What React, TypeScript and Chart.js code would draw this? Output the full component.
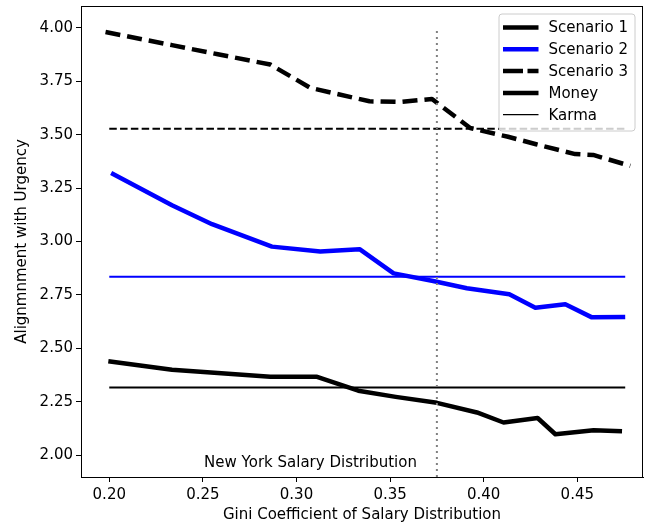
import React, { useEffect, useRef } from "react";
import { Chart, registerables } from "chart.js";

Chart.register(...registerables);

const FONT = '"DejaVu Sans", "Liberation Sans", sans-serif';

// ---- data ----
const scenario1Gini = [0.1995, 0.2335, 0.258, 0.286, 0.311, 0.333, 0.353, 0.375, 0.3964, 0.4106, 0.4288, 0.4383, 0.4587, 0.4739];
const scenario1Values = [2.44, 2.40, 2.385, 2.367, 2.367, 2.302, 2.273, 2.245, 2.20, 2.153, 2.174, 2.098, 2.117, 2.112];

const scenario2Gini = [0.201, 0.2335, 0.2549, 0.2869, 0.3127, 0.3337, 0.3519, 0.373, 0.391, 0.4137, 0.4276, 0.4436, 0.4578, 0.4756];
const scenario2Values = [3.32, 3.17, 3.081, 2.976, 2.953, 2.964, 2.851, 2.815, 2.781, 2.753, 2.690, 2.706, 2.645, 2.647];

const scenario3Gini = [0.198, 0.2335, 0.258, 0.286, 0.3074, 0.339, 0.3555, 0.3724, 0.3928, 0.413, 0.428, 0.4489, 0.4585, 0.4783];
const scenario3Values = [3.98, 3.919, 3.876, 3.828, 3.719, 3.656, 3.653, 3.667, 3.531, 3.49, 3.455, 3.409, 3.405, 3.354];

const baselineGini = [0.2, 0.4756];
const scenario1Baseline = 2.317;
const scenario2Baseline = 2.835;
const scenario3Baseline = 3.528;

const newYorkGini = 0.375;
const newYorkLabel = "New York Salary Distribution";
const newYorkLabelPos = [0.3075, 1.945];

const xTicks = [0.2, 0.25, 0.3, 0.35, 0.4, 0.45];
const yTicks = [2.0, 2.25, 2.5, 2.75, 3.0, 3.25, 3.5, 3.75, 4.0];
const xRange = [0.1849, 0.4851];
const yRange = [1.898, 4.102];

const legendLabels = ["Scenario 1", "Scenario 2", "Scenario 3", "Money", "Karma"];

const xTitle = "Gini Coefficient of Salary Distribution";
const yTitle = "Alignmnment with Urgency";

const toPoints = (xs: number[], ys: number[]) => xs.map((x, i) => ({ x, y: ys[i] }));
const flat = (xs: number[], y: number) => xs.map((x) => ({ x, y }));

const BLUE = "#0000ff";
const THICK = 4.5;

const overlayPlugin = {
  id: "overlay",
  afterDatasetsDraw(chart: any) {
    const { ctx, chartArea, scales } = chart;
    const xs = scales.x;
    const ys = scales.y;
    ctx.save();
    // vertical dotted marker
    const vx = xs.getPixelForValue(newYorkGini);
    const h = chartArea.bottom - chartArea.top;
    ctx.strokeStyle = "#808080";
    ctx.lineWidth = 2;
    ctx.setLineDash([2, 4]);
    ctx.beginPath();
    ctx.moveTo(vx, chartArea.bottom);
    ctx.lineTo(vx, chartArea.top + 0.05 * h);
    ctx.stroke();
    ctx.setLineDash([]);
    // annotation text
    ctx.fillStyle = "#000";
    ctx.font = `15px ${FONT}`;
    ctx.textAlign = "center";
    ctx.textBaseline = "alphabetic";
    ctx.fillText(newYorkLabel, xs.getPixelForValue(newYorkLabelPos[0]), ys.getPixelForValue(newYorkLabelPos[1]));
    ctx.restore();
  },
  afterDraw(chart: any) {
    const { ctx, chartArea } = chart;
    ctx.save();
    // frame
    ctx.strokeStyle = "#000";
    ctx.lineWidth = 1;
    ctx.strokeRect(chartArea.left + 0.5, chartArea.top + 0.5, chartArea.right - chartArea.left - 1, chartArea.bottom - chartArea.top);

    // legend
    const bx = chartArea.right - 8;
    const left = bx - 136;
    const top = chartArea.top + 8;
    const w = 136;
    const hgt = 117;
    const r = 3;
    ctx.beginPath();
    ctx.moveTo(left + r, top);
    ctx.lineTo(left + w - r, top);
    ctx.arcTo(left + w, top, left + w, top + r, r);
    ctx.lineTo(left + w, top + hgt - r);
    ctx.arcTo(left + w, top + hgt, left + w - r, top + hgt, r);
    ctx.lineTo(left + r, top + hgt);
    ctx.arcTo(left, top + hgt, left, top + hgt - r, r);
    ctx.lineTo(left, top + r);
    ctx.arcTo(left, top, left + r, top, r);
    ctx.closePath();
    ctx.fillStyle = "rgba(255,255,255,0.8)";
    ctx.fill();
    ctx.strokeStyle = "#cccccc";
    ctx.lineWidth = 1;
    ctx.stroke();

    const styles = [
      { color: "#000", width: THICK, dash: [] as number[] },
      { color: BLUE, width: THICK, dash: [] as number[] },
      { color: "#000", width: THICK, dash: [20, 4.5] },
      { color: "#000", width: THICK, dash: [] as number[] },
      { color: "#000", width: 1.3, dash: [] as number[] },
    ];
    ctx.font = `15px ${FONT}`;
    ctx.textAlign = "left";
    ctx.textBaseline = "middle";
    legendLabels.forEach((label, i) => {
      const y = top + 13.5 + i * 21.8;
      const s = styles[i];
      ctx.strokeStyle = s.color;
      ctx.lineWidth = s.width;
      ctx.setLineDash(s.dash);
      ctx.lineCap = "butt";
      ctx.beginPath();
      ctx.moveTo(left + 4, y);
      ctx.lineTo(left + 39.5, y);
      ctx.stroke();
      ctx.setLineDash([]);
      ctx.fillStyle = "#000";
      ctx.fillText(label, left + 49.5, y + 1);
    });
    ctx.restore();
  },
};

export default function App() {
  const ref = useRef<HTMLCanvasElement | null>(null);
  useEffect(() => {
    if (!ref.current) return;
    Chart.defaults.font.family = FONT;
    Chart.defaults.font.size = 15;
    Chart.defaults.color = "#000";
    const line = (data: any[], color: string, width: number, dash: number[] = []) => ({
      data,
      borderColor: color,
      backgroundColor: color,
      borderWidth: width,
      borderDash: dash,
      pointRadius: 0,
      tension: 0,
      fill: false,
      borderJoinStyle: "round" as const,
    });
    const chart = new Chart(ref.current, {
      type: "line",
      data: {
        datasets: [
          line(toPoints(scenario1Gini, scenario1Values), "#000", THICK),
          line(toPoints(scenario2Gini, scenario2Values), BLUE, THICK),
          line(toPoints(scenario3Gini, scenario3Values), "#000", THICK, [15, 7]),
          line(flat(baselineGini, scenario1Baseline), "#000", 2),
          line(flat(baselineGini, scenario2Baseline), BLUE, 2),
          line(flat(baselineGini, scenario3Baseline), "#000", 2, [7.5, 3.3]),
        ],
      },
      options: {
        responsive: false,
        animation: false,
        devicePixelRatio: 1,
        layout: { padding: { left: 0, top: 6, right: 4, bottom: 0 } },
        plugins: { legend: { display: false }, tooltip: { enabled: false } },
        scales: {
          x: {
            type: "linear",
            min: xRange[0],
            max: xRange[1],
            afterFit: (s: any) => { s.height = 50; s.paddingLeft = 0; s.paddingRight = 0; },
            afterBuildTicks: (s: any) => { s.ticks = xTicks.map((v) => ({ value: v })); },
            ticks: { padding: 4, callback: (v: any) => Number(v).toFixed(2), color: "#000", font: { size: 15 } },
            grid: { drawOnChartArea: false, drawTicks: true, tickLength: 5, color: "#000", lineWidth: 1 },
            border: { display: true, color: "#000", width: 1 },
            title: { display: true, text: xTitle, color: "#000", font: { size: 15 }, padding: { top: 0, bottom: 3 } },
          },
          y: {
            type: "linear",
            min: yRange[0],
            max: yRange[1],
            afterFit: (s: any) => { s.width = 81; s.paddingTop = 0; s.paddingBottom = 0; },
            afterBuildTicks: (s: any) => { s.ticks = yTicks.map((v) => ({ value: v })); },
            ticks: { padding: 3, callback: (v: any) => Number(v).toFixed(2), color: "#000", font: { size: 15 } },
            grid: { drawOnChartArea: false, drawTicks: true, tickLength: 5, color: "#000", lineWidth: 1 },
            border: { display: true, color: "#000", width: 1 },
            title: { display: true, text: yTitle, color: "#000", font: { size: 15 }, padding: { top: 13, bottom: 0 } },
          },
        },
      },
      plugins: [overlayPlugin],
    });
    return () => chart.destroy();
  }, []);
  return (
    <div style={{ position: "fixed", left: 0, top: 0, width: 647, height: 527, background: "#fff" }}>
      <canvas ref={ref} width={647} height={527} style={{ display: "block" }} />
    </div>
  );
}
